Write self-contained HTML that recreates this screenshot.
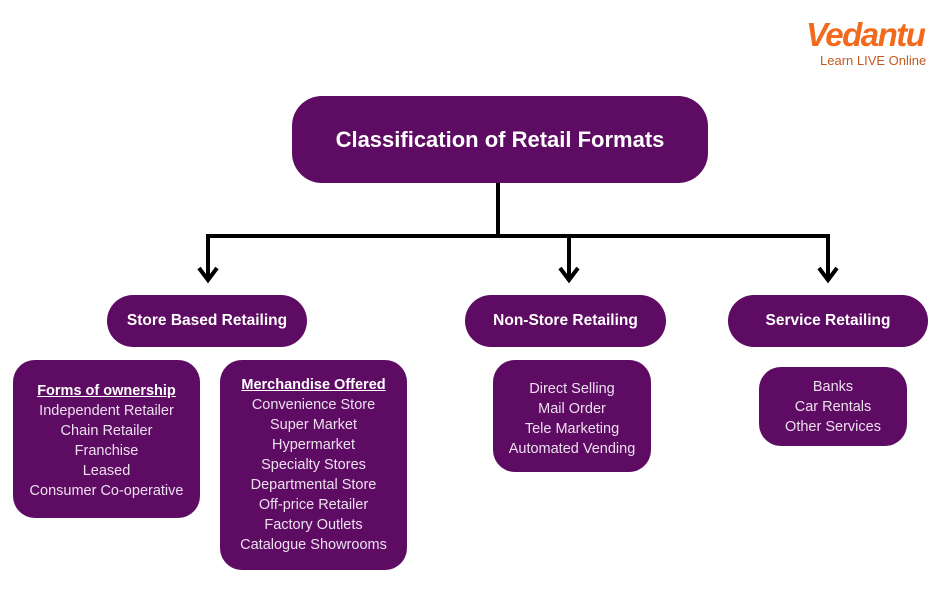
<!DOCTYPE html>
<html><head><style>
body{margin:0;width:943px;height:600px;background:#fff;position:relative;overflow:hidden;font-family:"Liberation Sans",sans-serif}
.b{position:absolute;background:#5e0b63;color:#fff;box-sizing:border-box;text-align:center}
.h{font-weight:bold;font-size:15.5px;display:flex;align-items:center;justify-content:center;border-radius:26px}
.l{border-radius:22px;font-size:14.5px;line-height:20px;color:#ece0ee;display:flex;flex-direction:column;justify-content:center}
.l u{font-weight:bold;color:#fff}
</style></head><body>
<div style="position:absolute;left:806px;top:16px;color:#f26a1b;font-size:33px;font-style:italic;font-weight:bold;letter-spacing:-1.5px">Vedantu</div>
<div style="position:absolute;left:820px;top:53px;color:#c2591f;font-size:13px">Learn LIVE Online</div>
<div class="b h" style="left:292px;top:96px;width:416px;height:87px;border-radius:30px;font-size:22px">Classification of Retail Formats</div>
<svg style="position:absolute;left:0;top:0" width="943" height="600">
<g stroke="#000" stroke-width="4" fill="none">
<path d="M498 183V236M206 236H830M208 234V280M569 234V280M828 234V280"/>
<path d="M199 268L208 280L217 268M560 268L569 280L578 268M819 268L828 280L837 268"/>
</g></svg>
<div class="b h" style="left:107px;top:295px;width:200px;height:52px">Store Based Retailing</div>
<div class="b h" style="left:465px;top:295px;width:201px;height:52px">Non-Store Retailing</div>
<div class="b h" style="left:728px;top:295px;width:200px;height:52px">Service Retailing</div>
<div class="b l" style="left:13px;top:360px;width:187px;height:158px;padding-top:4px"><u>Forms of ownership</u><span>Independent Retailer</span><span>Chain Retailer</span><span>Franchise</span><span>Leased</span><span>Consumer Co-operative</span></div>
<div class="b l" style="left:220px;top:360px;width:187px;height:210px"><u>Merchandise Offered</u><span>Convenience Store</span><span>Super Market</span><span>Hypermarket</span><span>Specialty Stores</span><span>Departmental Store</span><span>Off-price Retailer</span><span>Factory Outlets</span><span>Catalogue Showrooms</span></div>
<div class="b l" style="left:493px;top:360px;width:158px;height:112px;padding-top:6px"><span>Direct Selling</span><span>Mail Order</span><span>Tele Marketing</span><span>Automated Vending</span></div>
<div class="b l" style="left:759px;top:367px;width:148px;height:79px"><span>Banks</span><span>Car Rentals</span><span>Other Services</span></div>
</body></html>
